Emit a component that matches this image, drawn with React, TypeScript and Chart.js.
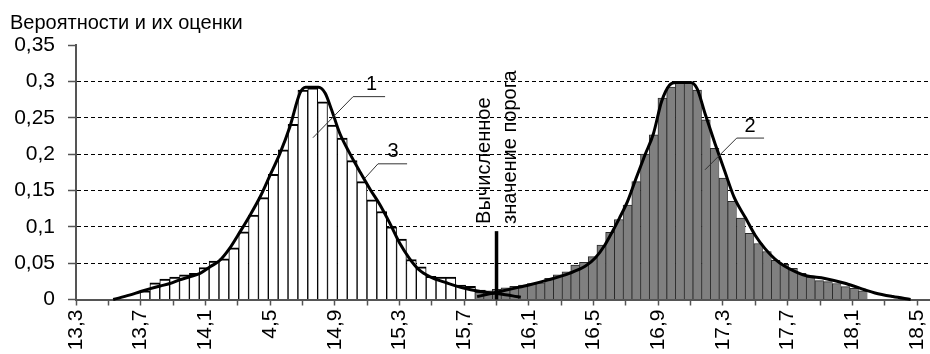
import React, { useEffect, useRef } from 'react';
import { Chart, registerables } from 'chart.js';

Chart.register(...registerables);

// ---------- text ----------
const TITLE = 'Вероятности и их оценки';
const THRESHOLD_TEXT = ['Вычисленное', 'значение порога'];

// ---------- axes ----------
const X_MIN = 13.3;
const X_MAX = 18.58;
const X_TICK_STEP = 0.2;
const X_TICK_COUNT = 27;
const X_TICK_LABELS = ['13,3', '13,7', '14,1', '4,5', '14,9', '15,3', '15,7', '16,1', '16,5', '16,9', '17,3', '17,7', '18,1', '18,5'];
const Y_MIN = 0;
const Y_MAX = 0.35;
const Y_STEP = 0.05;

// ---------- histogram 1 (white) ----------
const WHITE_START = 13.696;
const WHITE_STEP = 0.061;
const WHITE_PROB = [
  0.012, 0.023, 0.028, 0.031, 0.034, 0.036, 0.044, 0.053, 0.056, 0.071,
  0.093, 0.116, 0.140, 0.172, 0.206, 0.241, 0.288, 0.291, 0.272, 0.240,
  0.222, 0.191, 0.162, 0.137, 0.121, 0.100, 0.083, 0.055, 0.045, 0.032,
  0.031, 0.031, 0.020, 0.018, 0.013, 0.009,
];

// ---------- histogram 2 (gray) ----------
const GRAY_START = 15.766;
const GRAY_STEP = 0.0539;
const GRAY_PROB = [
  0.010, 0.012, 0.014, 0.016, 0.018, 0.020, 0.022, 0.023, 0.029, 0.034,
  0.038, 0.0475, 0.051, 0.059, 0.075, 0.0925, 0.110, 0.130, 0.162, 0.200,
  0.2265, 0.277, 0.292, 0.2985, 0.2985, 0.288, 0.247, 0.208, 0.167, 0.135,
  0.112, 0.091, 0.077, 0.066, 0.054, 0.0485, 0.043, 0.036, 0.031, 0.026,
  0.0245, 0.022, 0.0176, 0.0154, 0.012,
];

// ---------- curve 3 (estimate for histogram 1) ----------
const CURVE1_X = [
  13.53, 13.63, 13.70, 13.76, 13.82, 13.88, 13.94, 14.00, 14.067, 14.129,
  14.19, 14.252, 14.314, 14.376, 14.438, 14.50, 14.561, 14.623, 14.685, 14.72,
  14.80, 14.84, 14.88, 14.93, 14.99, 15.06, 15.12, 15.18, 15.24, 15.30,
  15.36, 15.42, 15.49, 15.59, 15.69, 15.80, 15.89, 16.00, 16.05,
];
const CURVE1_Y = [
  0, 0.006, 0.011, 0.015, 0.0186, 0.022, 0.027, 0.031, 0.036, 0.045,
  0.054, 0.071, 0.093, 0.116, 0.141, 0.171, 0.201, 0.238, 0.284, 0.292,
  0.292, 0.284, 0.261, 0.229, 0.202, 0.174, 0.151, 0.130, 0.105, 0.078,
  0.057, 0.041, 0.031, 0.023, 0.016, 0.011, 0.0085, 0.005, 0.003,
];

// ---------- curve for histogram 2 ----------
const CURVE2_X = [
  15.78, 15.90, 16.00, 16.10, 16.22, 16.35, 16.45, 16.51, 16.57, 16.62,
  16.66, 16.71, 16.76, 16.82, 16.87, 16.92, 16.97, 17.01, 17.10, 17.14,
  17.19, 17.25, 17.31, 17.37, 17.44, 17.50, 17.56, 17.62, 17.68, 17.75,
  17.81, 17.93, 18.06, 18.18, 18.24, 18.35, 18.46,
];
const CURVE2_Y = [
  0.004, 0.010, 0.015, 0.020, 0.027, 0.036, 0.046, 0.057, 0.075, 0.095,
  0.112, 0.135, 0.165, 0.200, 0.228, 0.272, 0.295, 0.2985, 0.2985, 0.290,
  0.255, 0.215, 0.177, 0.140, 0.112, 0.088, 0.070, 0.056, 0.046, 0.038,
  0.033, 0.029, 0.022, 0.013, 0.009, 0.004, 0,
];

// ---------- threshold ----------
const THRESHOLD_X = 15.9;
const THRESHOLD_TOP = 0.094;

// ---------- callouts (data units) ----------
const CALLOUT_LABELS = ['1', '3', '2'];
const CALLOUT_TEXT_POS = [[15.128, 0.2955], [15.26, 0.2036], [17.467, 0.2376]];
const CALLOUT_PATHS = [
  [[14.765, 0.2225], [15.013, 0.279], [15.211, 0.279]],
  [[15.087, 0.167], [15.167, 0.1866], [15.347, 0.1866]],
  [[17.189, 0.1784], [17.385, 0.222], [17.554, 0.222]],
];
const THRESHOLD_TEXT_POS = [[15.86, 0.104], [16.021, 0.104]];

const FONT = '"Liberation Sans", Arial, sans-serif';

const fmt = (v: number) => String(Math.round(v * 100) / 100).replace('.', ',');

const noSidePadding = (scale: any) => {
  scale.paddingLeft = 0;
  scale.paddingRight = 0;
};

export default function App() {
  const ref = useRef<HTMLCanvasElement | null>(null);

  useEffect(() => {
    if (!ref.current) return;

    const whiteData = WHITE_PROB.map((y, i) => ({ x: WHITE_START + (i + 0.5) * WHITE_STEP, y }));
    const grayData = GRAY_PROB.map((y, i) => ({ x: GRAY_START + (i + 0.5) * GRAY_STEP, y }));
    const c1 = CURVE1_X.map((x, i) => ({ x, y: CURVE1_Y[i] }));
    const c2 = CURVE2_X.map((x, i) => ({ x, y: CURVE2_Y[i] }));

    const annot = {
      id: 'annot',
      afterDatasetsDraw(chart: any) {
        const { ctx, scales } = chart;
        const xs = scales.x;
        const ys = scales.y;
        ctx.save();
        ctx.strokeStyle = '#333';
        ctx.lineWidth = 1;
        CALLOUT_PATHS.forEach((path) => {
          ctx.beginPath();
          path.forEach(([px, py], i) => {
            const X = xs.getPixelForValue(px);
            const Y = ys.getPixelForValue(py);
            if (i === 0) ctx.moveTo(X, Y);
            else ctx.lineTo(X, Y);
          });
          ctx.stroke();
        });
        ctx.fillStyle = '#000';
        ctx.font = `20px ${FONT}`;
        ctx.textAlign = 'center';
        ctx.textBaseline = 'middle';
        CALLOUT_LABELS.forEach((t, i) => {
          const [px, py] = CALLOUT_TEXT_POS[i];
          ctx.fillText(t, xs.getPixelForValue(px), ys.getPixelForValue(py));
        });
        ctx.textAlign = 'left';
        ctx.textBaseline = 'alphabetic';
        THRESHOLD_TEXT.forEach((t, i) => {
          const [px, py] = THRESHOLD_TEXT_POS[i];
          ctx.save();
          ctx.translate(xs.getPixelForValue(px), ys.getPixelForValue(py));
          ctx.rotate(-Math.PI / 2);
          ctx.fillText(t, 0, 0);
          ctx.restore();
        });
        ctx.restore();
      },
      afterDraw(chart: any) {
        const { ctx } = chart;
        ctx.save();
        ctx.fillStyle = '#000';
        ctx.font = `20px ${FONT}`;
        ctx.textAlign = 'left';
        ctx.textBaseline = 'alphabetic';
        ctx.fillText(TITLE, 10, 29);
        ctx.restore();
      },
    };

    const chart = new Chart(ref.current, {
      type: 'bar',
      data: {
        datasets: [
          {
            type: 'line',
            data: c1,
            xAxisID: 'x',
            borderColor: '#000',
            borderWidth: 3,
            pointRadius: 0,
            cubicInterpolationMode: 'monotone',
            fill: false,
            clip: false,
            order: 0,
          } as any,
          {
            type: 'line',
            data: c2,
            xAxisID: 'x',
            borderColor: '#000',
            borderWidth: 3,
            pointRadius: 0,
            cubicInterpolationMode: 'monotone',
            fill: false,
            clip: false,
            order: 0,
          } as any,
          {
            type: 'line',
            data: [{ x: THRESHOLD_X, y: 0 }, { x: THRESHOLD_X, y: THRESHOLD_TOP }],
            xAxisID: 'x',
            borderColor: '#000',
            borderWidth: 3.5,
            pointRadius: 0,
            fill: false,
            clip: false,
            order: 0,
          } as any,
          {
            type: 'bar',
            data: grayData,
            xAxisID: 'xg',
            backgroundColor: '#808080',
            borderColor: '#2a2a2a',
            borderWidth: { top: 1, left: 1, right: 0.5, bottom: 0 },
            barPercentage: 1,
            categoryPercentage: 1,
            grouped: false,
            order: 1,
          } as any,
          {
            type: 'bar',
            data: whiteData,
            xAxisID: 'xw',
            backgroundColor: '#fff',
            borderColor: '#000',
            borderWidth: { top: 2, left: 1, right: 1, bottom: 0 },
            barPercentage: 1,
            categoryPercentage: 1,
            grouped: false,
            order: 2,
          } as any,
        ],
      },
      options: {
        responsive: false,
        animation: false,
        devicePixelRatio: 1,
        layout: { padding: { top: 45, right: 0, left: 0, bottom: 0 } },
        plugins: { legend: { display: false }, tooltip: { enabled: false }, title: { display: false } },
        scales: {
          x: {
            type: 'linear',
            position: 'bottom',
            offset: false,
            min: X_MIN,
            max: X_MAX,
            afterBuildTicks: (scale: any) => {
              const t = [];
              for (let i = 0; i < X_TICK_COUNT; i++) {
                t.push({ value: Math.round((X_MIN + i * X_TICK_STEP) * 10) / 10 });
              }
              scale.ticks = t;
            },
            afterFit: (scale: any) => {
              scale.height = 54.5;
              noSidePadding(scale);
            },
            ticks: {
              autoSkip: false,
              minRotation: 90,
              maxRotation: 90,
              padding: 4,
              color: '#000',
              font: { family: FONT, size: 21 },
              callback: (_v: any, index: number) => (index % 2 === 0 ? X_TICK_LABELS[index / 2] : ''),
            },
            grid: {
              offset: false,
              drawOnChartArea: false,
              drawTicks: true,
              tickLength: 6,
              tickColor: '#555',
              tickWidth: 1.5,
            },
            border: { display: true, color: '#555', width: 2 },
          },
          xw: { type: 'linear', display: false, offset: false, grid: { offset: false }, min: X_MIN, max: X_MAX, afterFit: noSidePadding },
          xg: { type: 'linear', display: false, offset: false, grid: { offset: false }, min: X_MIN, max: X_MAX, afterFit: noSidePadding },
          y: {
            type: 'linear',
            min: Y_MIN,
            max: Y_MAX,
            afterFit: (scale: any) => {
              scale.width = 76;
            },
            ticks: {
              stepSize: Y_STEP,
              padding: 13,
              color: '#000',
              font: { family: FONT, size: 21 },
              callback: (v: any) => fmt(Number(v)),
            },
            grid: {
              color: (ctx: any) =>
                ctx.tick && (Math.abs(ctx.tick.value) < 1e-9 || ctx.tick.value > Y_MAX - 1e-9) ? 'rgba(0,0,0,0)' : '#000',
              lineWidth: 1,
              drawTicks: true,
              tickLength: 8,
              tickColor: '#555',
              tickWidth: 1.5,
              tickBorderDash: [],
            },
            border: { display: true, color: '#555', width: 2, dash: [4, 3] },
          },
        },
      } as any,
      plugins: [annot],
    });

    return () => chart.destroy();
  }, []);

  return (
    <div style={{ position: 'fixed', left: 0, top: 0, width: 930, height: 354, overflow: 'hidden', background: '#fff' }}>
      <canvas ref={ref} width={930} height={354} style={{ display: 'block' }} />
    </div>
  );
}
